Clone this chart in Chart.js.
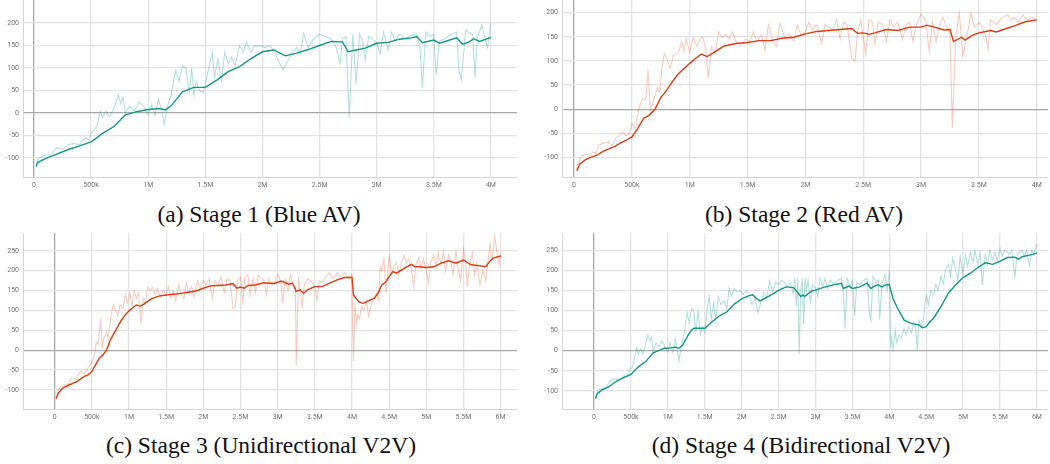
<!DOCTYPE html>
<html>
<head>
<meta charset="utf-8">
<script src="https://cdn.jsdelivr.net/npm/chart.js@4.4.1/dist/chart.umd.min.js"></script>
<style>
  body { margin: 0; background: #fff; }
  #page { position: relative; width: 1050px; height: 464px; overflow: hidden; }
  canvas { position: absolute; }
  .caption {
    position: absolute; width: 400px; text-align: center;
    font-family: "Liberation Serif", serif; font-size: 23.5px; line-height: 24px; color: #111;
  }
</style>
</head>
<body>
<div id="page">
  <canvas id="stage1" width="520" height="195" style="left:0;top:0"></canvas>
  <canvas id="stage2" width="511" height="195" style="left:539px;top:0"></canvas>
  <canvas id="stage3" width="520" height="194" style="left:0;top:233px"></canvas>
  <canvas id="stage4" width="511" height="194" style="left:539px;top:233px"></canvas>
  <div class="caption" style="left:59px;top:202px">(a) Stage 1 (Blue AV)</div>
  <div class="caption" style="left:604px;top:202px">(b) Stage 2 (Red AV)</div>
  <div class="caption" style="left:61px;top:433px">(c) Stage 3 (Unidirectional V2V)</div>
  <div class="caption" style="left:601px;top:433px">(d) Stage 4 (Bidirectional V2V)</div>
</div>
<script>
// --------------- data (steps in millions) --------------- //

// stage 1 (blue AV)
const rawStepsA = [0.02,0.04,0.1,0.15,0.2,0.25,0.3,0.35,0.4,0.45,0.48,0.5,0.55,0.58,0.6,0.63,0.66,0.7,0.72,0.74,
  0.76,0.78,0.8,0.84,0.88,0.92,0.96,1.0,1.03,1.06,1.09,1.12,1.14,1.17,1.2,1.24,1.27,1.3,1.33,1.36,
  1.38,1.4,1.42,1.45,1.48,1.5,1.53,1.56,1.58,1.61,1.64,1.67,1.7,1.73,1.76,1.8,1.83,1.86,1.9,1.93,
  1.97,2.0,2.02,2.06,2.1,2.14,2.18,2.22,2.26,2.3,2.33,2.36,2.4,2.45,2.5,2.55,2.6,2.64,2.68,2.7,
  2.73,2.76,2.79,2.82,2.85,2.88,2.9,2.93,2.96,3.0,3.03,3.06,3.1,3.13,3.16,3.2,3.25,3.3,3.35,3.38,
  3.4,3.43,3.46,3.5,3.52,3.55,3.6,3.65,3.7,3.72,3.74,3.78,3.82,3.84,3.86,3.88,3.92,3.95,3.97,4.0];
const rawA = [-120,-100,-93,-92,-77,-80,-70,-68,-70,-55,-60,-45,-30,5,-10,5,-8,10,25,40,
  20,35,0,15,5,25,15,-3,20,-5,30,5,-25,15,40,95,70,105,100,45,
  100,40,70,50,45,65,100,135,80,120,70,135,110,125,105,150,135,157,135,150,
  148,150,145,150,140,115,96,115,135,145,130,177,145,165,175,170,165,150,110,165,
  170,-10,175,64,175,155,118,170,165,155,133,180,140,180,160,175,165,172,175,140,
  55,180,170,175,84,160,165,175,180,95,73,185,175,175,79,165,195,165,145,200];
const smoothStepsA = [0.02,0.03,0.1,0.2,0.3,0.4,0.5,0.55,0.6,0.7,0.8,0.9,1.0,1.1,1.15,1.2,1.3,1.4,1.5,1.6,
  1.7,1.8,1.9,2.0,2.1,2.2,2.3,2.4,2.5,2.6,2.7,2.75,2.8,2.9,3.0,3.1,3.2,3.3,3.35,3.4,
  3.5,3.55,3.7,3.75,3.8,3.85,3.9,4.0];
const smoothA = [-119,-110,-101,-91,-81,-73,-64,-55,-45,-30,-4,3,8,10,7,16,47,57,57,73,
  92,103,121,136,140,127,133,141,150,159,158,136,139,144,155,157,164,167,170,156,
  162,155,167,153,157,165,159,168];

// stage 2 (red AV)
const rawStepsB = [0.02,0.04,0.06,0.1,0.14,0.16,0.19,0.21,0.25,0.3,0.33,0.36,0.39,0.42,0.45,0.48,0.5,0.53,0.56,0.59,
  0.62,0.64,0.66,0.69,0.72,0.74,0.76,0.78,0.81,0.83,0.86,0.9,0.93,0.95,0.97,1.0,1.03,1.06,1.09,1.11,
  1.14,1.16,1.19,1.22,1.25,1.28,1.31,1.34,1.37,1.4,1.44,1.48,1.52,1.55,1.58,1.62,1.65,1.68,1.72,1.75,
  1.78,1.82,1.86,1.9,1.93,1.96,2.0,2.03,2.06,2.1,2.14,2.17,2.2,2.24,2.27,2.3,2.33,2.36,2.4,2.43,
  2.45,2.48,2.52,2.55,2.58,2.6,2.63,2.67,2.7,2.73,2.76,2.8,2.84,2.87,2.9,2.93,2.96,3.0,3.04,3.07,
  3.1,3.13,3.16,3.19,3.22,3.25,3.27,3.3,3.33,3.36,3.4,3.43,3.46,3.5,3.53,3.56,3.58,3.6,3.65,3.7,
  3.75,3.78,3.8,3.84,3.88,3.92,3.96,4.0];
const rawB = [-125,-110,-97,-93,-95,-88,-92,-75,-70,-68,-75,-60,-55,-47,-55,-48,-30,-40,0,22,
  20,82,-3,20,45,35,85,115,100,85,112,115,140,120,145,118,148,130,145,150,
  125,65,130,115,160,148,155,145,160,140,130,145,140,160,140,155,122,175,140,130,
  178,150,155,140,175,155,160,180,165,175,136,175,170,165,185,145,180,175,105,100,
  160,185,116,185,180,135,180,175,140,185,170,180,145,175,180,140,175,197,185,120,
  180,140,175,190,170,155,-38,150,200,110,155,200,170,180,170,150,125,185,175,190,
  195,185,190,180,195,185,190,185];
const smoothStepsB = [0.025,0.05,0.1,0.15,0.2,0.25,0.3,0.35,0.4,0.45,0.5,0.55,0.6,0.65,0.7,0.75,0.8,0.85,0.9,0.95,
  1.0,1.05,1.1,1.15,1.2,1.25,1.3,1.4,1.5,1.6,1.7,1.8,1.9,2.0,2.1,2.2,2.3,2.4,2.45,2.5,
  2.55,2.6,2.7,2.8,2.9,3.0,3.05,3.1,3.2,3.25,3.28,3.35,3.38,3.45,3.5,3.6,3.65,3.7,3.8,3.9,4.0];
const smoothB = [-127,-113,-104,-99,-95,-87,-82,-77,-70,-64,-57,-40,-19,-12,0,24,39,57,73,84,
  95,105,114,109,116,124,131,136,138,142,142,147,149,156,161,163,165,167,157,158,
  155,158,165,163,170,170,174,171,164,165,140,149,143,154,158,163,160,164,172,181,185];

// stage 3 (unidirectional V2V)
const rawStepsC = [0.02,0.05,0.08,0.12,0.15,0.18,0.2,0.22,0.26,0.3,
  0.33,0.36,0.4,0.43,0.47,0.5,0.53,0.56,0.58,0.6,
  0.62,0.64,0.66,0.7,0.72,0.76,0.79,0.82,0.85,0.88,
  0.92,0.95,0.98,1.01,1.04,1.07,1.1,1.13,1.16,1.19,
  1.22,1.25,1.28,1.32,1.35,1.38,1.42,1.46,1.5,1.53,
  1.56,1.6,1.63,1.67,1.7,1.74,1.77,1.8,1.84,1.88,
  1.92,1.96,2.0,2.04,2.08,2.12,2.16,2.2,2.24,2.28,
  2.32,2.36,2.4,2.43,2.46,2.5,2.53,2.56,2.6,2.63,
  2.67,2.7,2.74,2.78,2.82,2.85,2.88,2.92,2.96,3.0,
  3.04,3.07,3.1,3.14,3.17,3.2,3.24,3.25,3.28,3.3,
  3.33,3.36,3.4,3.45,3.5,3.53,3.56,3.6,3.65,3.7,
  3.75,3.8,3.85,3.9,3.95,4.0,4.01,4.02,4.04,4.06,
  4.08,4.1,4.13,4.16,4.2,4.22,4.26,4.3,4.33,4.36,
  4.38,4.4,4.43,4.46,4.5,4.53,4.56,4.6,4.63,4.66,
  4.7,4.73,4.76,4.8,4.83,4.86,4.9,4.93,4.96,5.0,
  5.03,5.06,5.1,5.13,5.16,5.2,5.23,5.26,5.3,5.33,
  5.36,5.4,5.43,5.46,5.5,5.53,5.55,5.58,5.62,5.65,
  5.68,5.72,5.76,5.8,5.83,5.86,5.88,5.92,5.95,5.98,
  6.0];
const rawC = [-120,-100,-92,-92,-87,-95,-78,-70,-70,-75,
  -58,-52,-60,-48,-40,-30,-20,20,15,40,
  80,5,30,45,30,90,115,100,88,115,
  105,140,120,145,110,150,130,145,65,130,
  115,160,150,158,140,155,135,150,140,160,
  130,150,125,165,140,130,170,145,160,135,
  175,155,175,165,180,130,175,165,185,145,
  180,175,105,110,175,185,115,185,190,140,
  180,145,190,180,175,140,180,165,170,192,
  175,118,180,150,190,170,155,-38,185,155,
  110,165,180,175,160,125,175,170,185,195,
  180,195,185,195,180,190,60,-27,120,65,
  90,80,110,100,125,85,115,130,145,125,
  210,200,230,145,240,190,210,220,190,215,
  240,220,230,205,160,215,235,205,230,200,
  170,220,240,210,245,215,250,200,240,225,
  190,250,205,175,255,220,160,210,245,190,
  220,165,200,175,225,270,220,290,245,215,
  245];
const smoothStepsC = [0.02,0.05,0.1,0.15,0.2,0.25,0.3,0.35,0.4,0.45,
  0.5,0.55,0.6,0.65,0.7,0.75,0.8,0.85,0.9,0.95,
  1.0,1.05,1.1,1.15,1.2,1.3,1.4,1.5,1.6,1.7,
  1.8,1.9,2.0,2.1,2.2,2.3,2.4,2.45,2.5,2.55,
  2.6,2.7,2.8,2.85,2.95,3.05,3.15,3.2,3.25,3.3,
  3.35,3.4,3.5,3.6,3.7,3.8,3.9,4.0,4.02,4.05,
  4.1,4.15,4.2,4.3,4.35,4.4,4.45,4.5,4.55,4.6,
  4.7,4.8,4.85,4.9,5.0,5.1,5.2,5.3,5.4,5.5,
  5.6,5.7,5.8,5.85,5.9,6.0];
const smoothC = [-122,-108,-97,-91,-87,-83,-79,-72,-66,-62,
  -54,-37,-20,-12,1,26,43,60,76,89,
  99,107,114,111,116,129,136,139,141,143,
  146,149,156,162,163,164,168,156,159,156,
  163,164,169,169,168,174,166,169,148,152,
  143,152,160,160,169,177,183,183,139,131,
  121,118,122,131,143,164,171,185,198,194,
  206,216,210,210,208,210,219,225,219,227,
  215,213,210,223,232,237];

// stage 4 (bidirectional V2V)
const rawStepsD = [0.02,0.05,0.08,0.12,0.16,0.2,0.24,0.28,0.32,0.36,
  0.4,0.44,0.48,0.52,0.55,0.58,0.6,0.63,0.66,0.7,
  0.73,0.76,0.78,0.8,0.84,0.88,0.92,0.96,1.0,1.03,
  1.07,1.1,1.13,1.15,1.18,1.22,1.26,1.29,1.32,1.35,
  1.38,1.41,1.44,1.47,1.5,1.53,1.56,1.59,1.62,1.65,
  1.68,1.72,1.76,1.8,1.83,1.86,1.9,1.94,1.98,2.02,
  2.06,2.1,2.14,2.18,2.22,2.26,2.3,2.34,2.38,2.42,
  2.46,2.5,2.54,2.58,2.62,2.66,2.7,2.72,2.74,2.76,
  2.78,2.8,2.82,2.84,2.86,2.88,2.9,2.93,2.96,3.0,
  3.03,3.06,3.1,3.13,3.16,3.2,3.25,3.3,3.35,3.38,
  3.4,3.43,3.47,3.5,3.53,3.56,3.6,3.65,3.7,3.73,
  3.75,3.78,3.82,3.85,3.87,3.9,3.94,3.97,4.0,4.02,
  4.03,4.05,4.08,4.1,4.13,4.16,4.2,4.23,4.26,4.3,
  4.33,4.36,4.38,4.4,4.45,4.48,4.5,4.53,4.56,4.6,
  4.63,4.66,4.7,4.73,4.76,4.8,4.83,4.86,4.9,4.93,
  4.96,5.0,5.03,5.06,5.1,5.13,5.16,5.2,5.23,5.26,
  5.3,5.33,5.36,5.4,5.43,5.46,5.5,5.53,5.56,5.6,
  5.63,5.66,5.7,5.73,5.76,5.8,5.83,5.86,5.9,5.93,
  5.96,6.0];
const rawD = [-120,-100,-95,-93,-92,-80,-72,-70,-70,-72,
  -62,-65,-50,-40,-15,8,-10,5,-8,15,
  40,25,35,0,20,10,25,10,-3,20,
  -5,30,0,-25,10,40,95,70,105,100,
  45,100,40,60,45,100,135,80,120,75,
  135,115,125,105,155,135,155,145,150,140,
  150,140,115,130,95,120,145,130,175,145,
  170,165,175,170,160,170,140,180,110,180,
  -8,150,180,65,180,150,175,120,165,155,
  135,180,160,180,155,175,165,175,180,140,
  55,180,160,175,85,170,165,175,180,95,
  76,185,170,175,78,165,190,150,200,5,
  30,5,50,20,40,30,55,40,60,45,
  70,50,0,75,60,110,139,115,150,140,
  165,150,185,165,200,215,185,230,200,175,
  235,190,240,210,245,220,250,215,245,164,
  240,215,250,225,245,225,255,235,250,245,
  240,250,180,240,245,250,235,250,212,250,
  240,265];
const smoothStepsD = [0.02,0.04,0.1,0.2,0.3,0.4,0.5,0.6,0.7,0.8,
  0.9,0.95,1.0,1.1,1.15,1.2,1.3,1.35,1.5,1.6,
  1.7,1.8,1.9,2.0,2.1,2.15,2.2,2.25,2.3,2.4,
  2.5,2.6,2.7,2.75,2.8,2.83,2.85,2.95,3.0,3.1,
  3.2,3.35,3.38,3.45,3.5,3.6,3.7,3.75,3.8,3.85,
  3.9,3.95,4.0,4.05,4.1,4.15,4.2,4.25,4.3,4.4,
  4.45,4.5,4.55,4.6,4.7,4.8,4.9,5.0,5.1,5.2,
  5.3,5.4,5.5,5.6,5.7,5.75,5.8,5.9,6.0];
const smoothD = [-119,-108,-98,-90,-76,-67,-59,-40,-27,-5,
  2,6,6,9,6,14,47,56,56,72,
  87,97,116,129,137,139,130,124,129,139,
  150,159,157,147,135,139,135,149,151,157,
  162,168,155,161,155,159,168,155,161,164,
  159,164,165,130,110,93,76,72,68,64,
  57,60,72,81,110,143,164,182,193,207,
  219,215,223,232,233,228,234,238,243];

// tick values
const xTicks4M = [0, 0.5, 1, 1.5, 2, 2.5, 3, 3.5, 4];
const xTicks6M = [0, 0.5, 1, 1.5, 2, 2.5, 3, 3.5, 4, 4.5, 5, 5.5, 6];
const yTicksTop = [-100, -50, 0, 50, 100, 150, 200];
const yTicksBottom = [-100, -50, 0, 50, 100, 150, 200, 250];

// --------------- styling --------------- //
const teal = { smooth: 'rgb(18, 150, 134)', raw: 'rgba(18, 150, 134, 0.3)' };
const red = { smooth: 'rgb(218, 58, 20)', raw: 'rgba(226, 86, 50, 0.3)' };

const gridColor = ctx => (ctx.tick && ctx.tick.value === 0) ? '#a9a9a9' : '#e3e3e3';
const tickFont = { family: 'Roboto', size: 7 };

function stepLabel(v) {
  if (v === 0) return '0';
  if (v < 1) return Math.round(v * 1000) + 'k';
  return v + 'M';
}

function toPoints(xs, ys) {
  return xs.map((x, i) => ({ x: x, y: ys[i] }));
}

function makeStageChart(id, rawX, rawY, smoothX, smoothY, color, xTicks, yTicks, xMin, xMax, yMin, yMax, rightPad) {
  return new Chart(document.getElementById(id), {
    type: 'line',
    data: {
      datasets: [{
        label: 'smoothed',
        data: toPoints(smoothX, smoothY),
        borderColor: color.smooth,
        borderWidth: 1.4,
        pointRadius: 0,
        tension: 0,
      }, {
        label: 'raw',
        data: toPoints(rawX, rawY),
        borderColor: color.raw,
        borderWidth: 1.1,
        pointRadius: 0,
        tension: 0,
      }]
    },
    options: {
      responsive: false,
      animation: false,
      events: [],
      layout: { padding: { top: 0, left: 0, bottom: 0, right: rightPad } },
      plugins: {
        legend: { display: false },
        tooltip: { enabled: false },
      },
      scales: {
        x: {
          type: 'linear',
          min: xMin,
          max: xMax,
          afterBuildTicks: s => { s.ticks = xTicks.map(v => ({ value: v })); },
          afterFit: s => { s.height = 18; s.paddingLeft = 0; s.paddingRight = 0; },
          ticks: { color: '#707070', font: tickFont, padding: 4, maxRotation: 0, autoSkip: false, callback: stepLabel },
          grid: { color: gridColor, lineWidth: 1.3, drawTicks: false },
          border: { color: '#d6d6d6', width: 1 },
        },
        y: {
          min: yMin,
          max: yMax,
          afterBuildTicks: s => { s.ticks = yTicks.map(v => ({ value: v })); },
          afterFit: s => { s.width = 23; s.paddingTop = 0; s.paddingBottom = 0; },
          ticks: { color: '#707070', font: tickFont, padding: 4, autoSkip: false },
          grid: { color: gridColor, lineWidth: 1.3, drawTicks: false },
          border: { color: '#d6d6d6', width: 1 },
        }
      }
    }
  });
}

const stage1Chart = makeStageChart('stage1', rawStepsA, rawA, smoothStepsA, smoothA, teal,
  xTicks4M, yTicksTop, -0.096, 4.228, -142, 251, 3);
const stage2Chart = makeStageChart('stage2', rawStepsB, rawB, smoothStepsB, smoothB, red,
  xTicks4M, yTicksTop, -0.104, 4.097, -140, 226, 2);
const stage3Chart = makeStageChart('stage3', rawStepsC, rawC, smoothStepsC, smoothC, red,
  xTicks6M, yTicksBottom, -0.426, 6.22, -148, 295, 3);
const stage4Chart = makeStageChart('stage4', rawStepsD, rawD, smoothStepsD, smoothD, teal,
  xTicks6M, yTicksBottom, -0.434, 6.15, -145, 293, 2);
</script>
</body>
</html>
